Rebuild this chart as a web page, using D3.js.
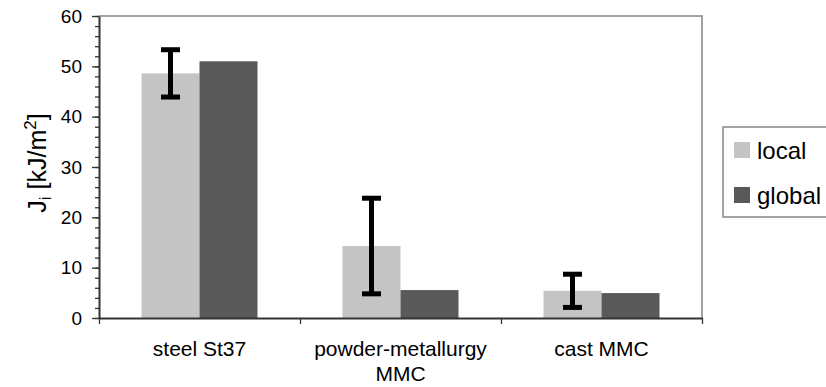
<!DOCTYPE html>
<html>
<head>
<meta charset="utf-8">
<script src="https://cdn.jsdelivr.net/npm/d3@7"></script>
<style>
  body { margin: 0; background: #fff; overflow: hidden; }
  svg { font-family: "Liberation Sans", Arial, sans-serif; display: block; }
</style>
</head>
<body>
<script>
// chart data
const categories = ["steel St37", "powder-metallurgy MMC", "cast MMC"];
const categoryLines = [["steel St37"], ["powder-metallurgy", "MMC"], ["cast MMC"]];
const seriesNames = ["local", "global"];
const localValues = [48.6, 14.3, 5.4];
const localErrors = [4.7, 9.5, 3.3];
const globalValues = [51.0, 5.55, 4.95];
const yTicks = [0, 10, 20, 30, 40, 50, 60];
const yMinorTicks = d3.range(0, 61, 2);

const colors = { local: "#c4c4c4", global: "#595959" };

const w = 826, h = 387;
const margin = { top: 16, right: 124, bottom: 69, left: 99 };
const innerWidth = w - margin.left - margin.right;
const innerHeight = h - margin.top - margin.bottom;

const svg = d3.select("body").append("svg")
    .attr("width", w)
    .attr("height", h);

const g = svg.append("g")
    .attr("transform", `translate(${margin.left},${margin.top})`);

// scales
const yScale = d3.scaleLinear().domain([0, 60]).range([innerHeight, 0]);
const xScale = d3.scaleBand()
    .domain(categories)
    .range([0, innerWidth])
    .paddingInner(0.423)
    .paddingOuter(0.2115);
const xSub = d3.scaleBand().domain(seriesNames).range([0, xScale.bandwidth()]);
const xEdge = d3.scaleLinear().domain([0, categories.length]).range([0, innerWidth]);

// frame (top and right in grey)
g.append("path")
    .attr("d", `M0,0H${innerWidth}V${innerHeight}`)
    .attr("fill", "none")
    .attr("stroke", "#858585")
    .attr("stroke-width", 1.5);

// bars
const rows = categories.map((c, i) => ({
    cat: c,
    local: localValues[i],
    err: localErrors[i],
    global: globalValues[i]
}));

const groups = g.selectAll(".group")
    .data(rows)
    .enter().append("g")
    .attr("transform", d => `translate(${xScale(d.cat)},0)`);

groups.selectAll("rect")
    .data(d => seriesNames.map(s => ({ s: s, v: d[s] })))
    .enter().append("rect")
    .attr("x", d => xSub(d.s))
    .attr("y", d => yScale(d.v))
    .attr("width", xSub.bandwidth())
    .attr("height", d => innerHeight - yScale(d.v))
    .attr("fill", d => colors[d.s]);

// error bars on local series
const eb = groups.append("g")
    .attr("stroke", "#000")
    .attr("stroke-width", 5);
const cx = xSub("local") + xSub.bandwidth() / 2;
eb.append("line")
    .attr("x1", cx).attr("x2", cx)
    .attr("y1", d => yScale(d.local + d.err))
    .attr("y2", d => yScale(d.local - d.err));
eb.append("line")
    .attr("x1", cx - 9.5).attr("x2", cx + 9.5)
    .attr("y1", d => yScale(d.local + d.err))
    .attr("y2", d => yScale(d.local + d.err));
eb.append("line")
    .attr("x1", cx - 9.5).attr("x2", cx + 9.5)
    .attr("y1", d => yScale(d.local - d.err))
    .attr("y2", d => yScale(d.local - d.err));

// y axis: minor ticks then major
const minorG = g.append("g")
    .call(d3.axisLeft(yScale).tickValues(yMinorTicks).tickSize(4).tickFormat(""));
minorG.select(".domain").remove();
minorG.selectAll("text").remove();
minorG.selectAll("line").attr("stroke", "#333").attr("stroke-width", 1.3);

const yAxisG = g.append("g")
    .call(d3.axisLeft(yScale).tickValues(yTicks).tickSize(7).tickPadding(10).tickSizeOuter(0));
yAxisG.select(".domain").attr("stroke", "#333").attr("stroke-width", 2);
yAxisG.selectAll("line").attr("stroke", "#333").attr("stroke-width", 1.3);
yAxisG.selectAll("text")
    .attr("font-size", 19)
    .attr("font-family", "Liberation Sans, Arial, sans-serif")
    .attr("fill", "#000");

// x axis with ticks at category boundaries
const xAxisG = g.append("g")
    .attr("transform", `translate(0,${innerHeight})`)
    .call(d3.axisBottom(xEdge).tickValues(d3.range(0, categories.length + 1)).tickSize(6).tickSizeOuter(0).tickFormat(""));
xAxisG.selectAll("text").remove();
xAxisG.select(".domain").attr("stroke", "#333").attr("stroke-width", 2);
xAxisG.selectAll("line").attr("stroke", "#333").attr("stroke-width", 1.3);

// category labels
const catText = g.append("g")
    .selectAll("text")
    .data(categories)
    .enter().append("text")
    .attr("x", d => xScale(d) + xScale.bandwidth() / 2)
    .attr("y", innerHeight + 38)
    .attr("text-anchor", "middle")
    .attr("font-size", 21)
    .attr("fill", "#000");
catText.each(function (d, i) {
    d3.select(this).selectAll("tspan")
        .data(categoryLines[i])
        .enter().append("tspan")
        .attr("x", xScale(d) + xScale.bandwidth() / 2)
        .attr("dy", (t, j) => j === 0 ? 0 : 25)
        .text(t => t);
});

// y axis title
const yTitle = svg.append("text")
    .attr("transform", "translate(46,163) rotate(-90)")
    .attr("text-anchor", "middle")
    .attr("font-size", 25)
    .attr("fill", "#000");
yTitle.append("tspan").text("J");
yTitle.append("tspan").attr("font-size", 17).attr("dy", 5).text("i");
yTitle.append("tspan").attr("dy", -5).text(" [kJ/m");
yTitle.append("tspan").attr("font-size", 17).attr("dy", -10).text("2");
yTitle.append("tspan").attr("dy", 10).text("]");

// legend
const legend = svg.append("g").attr("transform", "translate(723,127)");
legend.append("rect")
    .attr("width", 120).attr("height", 90)
    .attr("fill", "#fff")
    .attr("stroke", "#858585")
    .attr("stroke-width", 1.5);
const items = legend.selectAll(".item")
    .data(seriesNames)
    .enter().append("g")
    .attr("transform", (d, i) => `translate(11,${15 + i * 45})`);
items.append("rect")
    .attr("width", 16).attr("height", 16)
    .attr("fill", d => colors[d]);
items.append("text")
    .attr("x", 23).attr("y", 17)
    .attr("font-size", 24)
    .attr("fill", "#000")
    .text(d => d);
</script>
</body>
</html>
